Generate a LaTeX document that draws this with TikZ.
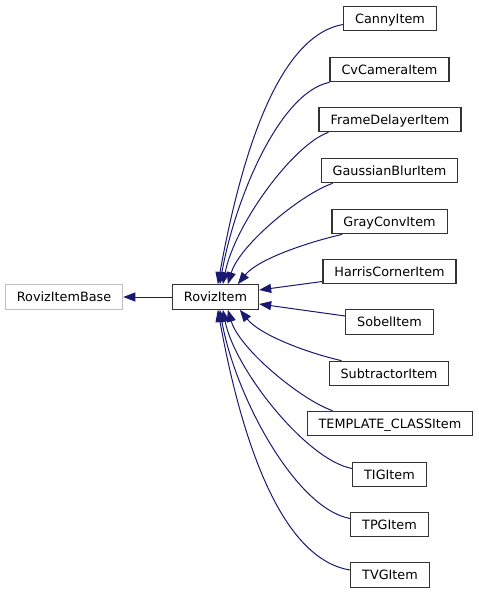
\documentclass[tikz,border=0pt]{standalone}
\usepackage{fontspec}
\setmainfont{DejaVu Sans}
\usetikzlibrary{arrows.meta,calc}
\definecolor{edgeblue}{HTML}{191970}
\definecolor{boxgray}{HTML}{333333}
\definecolor{basegray}{HTML}{BFBFBF}
\begin{document}
\begin{tikzpicture}[x=1pt,y=-1pt,
  cls/.style={draw=boxgray,line width=1.2pt,fill=white,minimum height=24.5pt,inner xsep=11.5pt,inner ysep=0pt,
    text height=9.3pt,text depth=0pt,font=\fontsize{12.8}{15}\selectfont},
  basecls/.style={cls,draw=basegray},
  inh/.style={draw=edgeblue,line width=1pt,-{Triangle[length=12pt,width=9pt]}}]
\useasboundingbox (0,0) rectangle (479,595);
\node[basecls] (base) at (64,297) {RovizItemBase};
\node[cls] (rov) at (215.5,297) {RovizItem};
\node[cls] (canny) at (390,18.5) {CannyItem};
\node[cls] (cvcam) at (389.5,69.5) {CvCameraItem};
\node[cls] (frame) at (390,119.5) {FrameDelayerItem};
\node[cls] (gauss) at (389.5,170.5) {GaussianBlurItem};
\node[cls] (gray) at (389.5,221.5) {GrayConvItem};
\node[cls] (harris) at (389.5,271.5) {HarrisCornerItem};
\node[cls] (sobel) at (389.5,322) {SobelItem};
\node[cls] (subtr) at (389,373.5) {SubtractorItem};
\node[cls] (templ) at (390,423.5) {TEMPLATE\_CLASSItem};
\node[cls] (tig) at (389.5,474.5) {TIGItem};
\node[cls] (tpg) at (389.5,524.5) {TPGItem};
\node[cls] (tvg) at (390,575) {TVGItem};

\draw[inh] (rov.west) -- (base.east);

\draw[inh] ($(canny.west)+(0,6)$) .. controls +(-70,12) and +(20,-110) .. ($(rov.north west)+(46,0)$);
\draw[inh] (cvcam.south west) .. controls +(-50,10) and +(15,-85) .. ($(rov.north west)+(48,0)$);
\draw[inh] ($(frame.south west)+(10,0)$) .. controls +(-35,12) and +(12,-60) .. ($(rov.north west)+(51,0)$);
\draw[inh] ($(gauss.south west)+(12,0)$) .. controls +(-30,10) and +(12,-40) .. ($(rov.north west)+(56,0)$);
\draw[inh] ($(gray.south west)+(11,0)$) .. controls +(-35,8) and +(20,-25) .. ($(rov.north west)+(66,0)$);
\draw[inh] ($(harris.west)+(0,10)$) -- ($(rov.east)+(0,-7)$);
\draw[inh] ($(sobel.west)+(0,-6)$) -- ($(rov.east)+(0,7)$);
\draw[inh] ($(subtr.north west)+(13,0)$) .. controls +(-35,-8) and +(20,25) .. ($(rov.south west)+(68,0)$);
\draw[inh] ($(templ.north west)+(26,0)$) .. controls +(-30,-10) and +(12,40) .. ($(rov.south west)+(56,0)$);
\draw[inh] ($(tig.west)+(0,-6)$) .. controls +(-45,-8) and +(12,60) .. ($(rov.south west)+(51,0)$);
\draw[inh] ($(tpg.west)+(0,-6)$) .. controls +(-55,-10) and +(15,85) .. ($(rov.south west)+(48,0)$);
\draw[inh] ($(tvg.west)+(0,-5)$) .. controls +(-75,-12) and +(20,110) .. ($(rov.south west)+(46,0)$);
\end{tikzpicture}
\end{document}
